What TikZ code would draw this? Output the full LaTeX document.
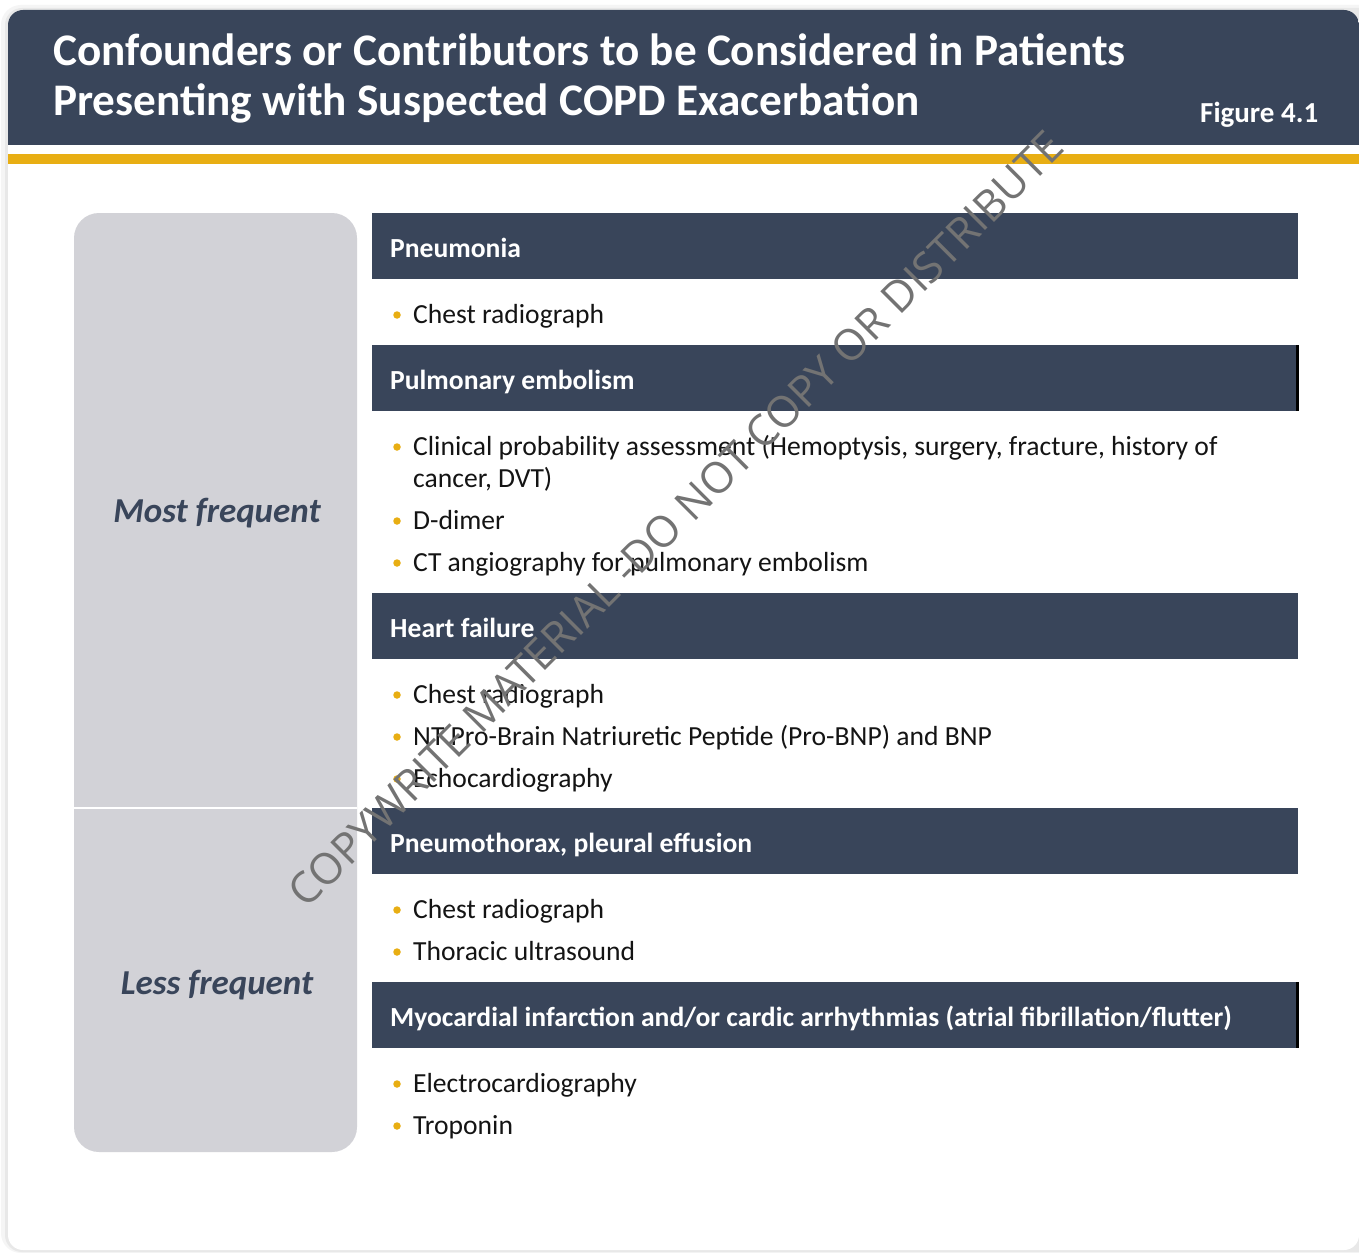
\documentclass[tikz,border=0pt]{standalone}
\usepackage{fontspec}
\setmainfont{Carlito}
\newfontfamily\wmfont{Open Sans}
\definecolor{navy}{RGB}{57,69,90}
\definecolor{gold}{RGB}{232,174,19}
\definecolor{sidegray}{RGB}{210,210,215}
\definecolor{bodytext}{RGB}{20,20,20}
\begin{document}
\begin{tikzpicture}[x=1pt,y=-1pt,
  titletxt/.style={anchor=base west,inner sep=0,text=white,font=\bfseries\fontsize{45.2}{50}\selectfont},
  figtxt/.style={anchor=base west,inner sep=0,text=white,font=\bfseries\fontsize{29}{32}\selectfont},
  hdr/.style={anchor=north west,fill=navy,minimum width=926,minimum height=66,inner sep=0},
  htxt/.style={anchor=base west,inner sep=0,text=white,font=\bfseries\fontsize{27.6}{30}\selectfont},
  bul/.style={circle,fill=gold,inner sep=0,minimum size=7.5},
  item/.style={anchor=base west,inner sep=0,text=bodytext,font=\fontsize{27.6}{32}\selectfont,align=left},
  side/.style={inner sep=0,text=navy,font=\bfseries\itshape\fontsize{35}{38}\selectfont},
  wm/.style={rotate=45,inner sep=0,text=black!55,font=\wmfont\fontsize{43}{43}\selectfont}
]
\useasboundingbox (0,0) rectangle (1359,1252);
\fill[white] (0,0) rectangle (1359,1252);
% card shadow
\fill[black!4, rounded corners=20] (1,5) rectangle (1380,1253);
\fill[black!9, rounded corners=17] (5,8) rectangle (1380,1252);
% card
\fill[white, rounded corners=15] (8,10) rectangle (1359,1250);
\begin{scope}
  \clip[rounded corners=15] (8,10) rectangle (1359,1250);
  \fill[navy] (0,0) rectangle (1359,145);
  \fill[gold] (0,154) rectangle (1359,164);
\end{scope}
% title
\node[titletxt] (t1) at (53,66) {Confounders or Contributors to be Considered in Patients};
\node[titletxt] (t2) at (53,116) {Presenting with Suspected COPD Exacerbation};
\node[figtxt] (fig) at (1200,123) {Figure 4.1};
% left frequency box
\fill[sidegray, rounded corners=25] (74,213) rectangle (357,1152);
\draw[white, line width=2] (74,808) -- (357,808);
\node[side] (most) at (217,513) {Most frequent};
\node[side] (less) at (217,985) {Less frequent};
% header bars
\node[hdr] (h1) at (372,213) {};
\node[hdr] (h2) at (372,345) {};
\node[hdr] (h3) at (372,593) {};
\node[hdr] (h4) at (372,808) {};
\node[hdr] (h5) at (372,982) {};
\draw[black, line width=2.5] ([xshift=-1]h2.north east) -- ([xshift=-1]h2.south east);
\draw[black, line width=2.5] ([xshift=-1]h5.north east) -- ([xshift=-1]h5.south east);
\node[htxt] (h1t) at (390,257) {Pneumonia};
\node[htxt] (h2t) at (390,389) {Pulmonary embolism};
\node[htxt] (h3t) at (390,637) {Heart failure};
\node[htxt] (h4t) at (390,852) {Pneumothorax, pleural effusion};
\node[htxt] (h5t) at (390,1026) {Myocardial infarction and/or cardic arrhythmias (atrial fibrillation/flutter)};
% bullets
\foreach \n/\y in {b1/323,b2/455,b3/529,b4/571,b5/703,b6/745,b7/787,b8/918,b9/960,b10/1092,b11/1134}{
  \node[bul] (\n) at (397,\y-8) {};
}
\node[item] (i1) at (413,323) {Chest radiograph};
\node[item] (i2) at (413,455) {Clinical probability assessment (Hemoptysis, surgery, fracture, history of};
\node[item] (i2b) at (413,487) {cancer, DVT)};
\node[item] (i3) at (413,529) {D-dimer};
\node[item] (i4) at (413,571) {CT angiography for pulmonary embolism};
\node[item] (i5) at (413,703) {Chest radiograph};
\node[item] (i6) at (413,745) {NT Pro-Brain Natriuretic Peptide (Pro-BNP) and BNP};
\node[item] (i7) at (413,787) {Echocardiography};
\node[item] (i8) at (413,918) {Chest radiograph};
\node[item] (i9) at (413,960) {Thoracic ultrasound};
\node[item] (i10) at (413,1092) {Electrocardiography};
\node[item] (i11) at (413,1134) {Troponin};
% watermark
\node[wm] (wmk) at (676,519) {COPYWRITE MATERIAL -DO NOT COPY OR DISTRIBUTE};
\end{tikzpicture}
\end{document}
